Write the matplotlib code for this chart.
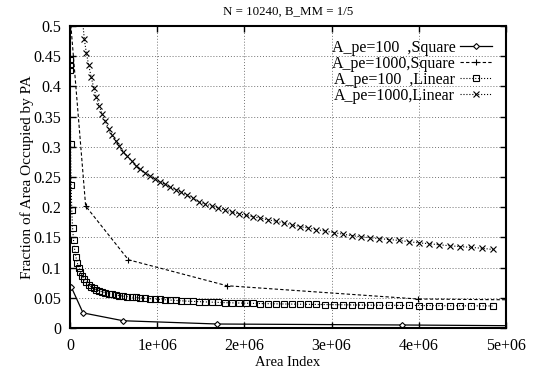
import numpy as np
import matplotlib
matplotlib.use("Agg")
import matplotlib.pyplot as plt

plt.rcParams['font.family'] = ['Liberation Serif', 'DejaVu Serif']
plt.rcParams['font.size'] = 9

# Square layouts (values in units of 1e6 on the x axis)
sq100_x = [0.015, 0.15, 0.61, 1.69, 3.81, 7.4]
sq100_y = [0.068, 0.025, 0.012, 0.0066, 0.005, 0.0015]
sq1000_x = [0.0, 0.18, 0.67, 1.8, 3.99, 8.0]
sq1000_y = [0.52, 0.202, 0.113, 0.070, 0.048, 0.043]

# Linear layouts, shared area indices
lin_x = [0.0, 0.0008, 0.0034, 0.0076, 0.0134, 0.021, 0.0302, 0.0412, 0.0538, 0.068,
         0.084, 0.1016, 0.121, 0.142, 0.1646, 0.189, 0.215, 0.2428, 0.2722, 0.3032,
         0.336, 0.3704, 0.4066, 0.4444, 0.4838, 0.525, 0.5678, 0.6124, 0.6586, 0.7064,
         0.756, 0.8072, 0.8602, 0.9148, 0.971, 1.029, 1.0886, 1.15, 1.213, 1.2776,
         1.344, 1.412, 1.4818, 1.5532, 1.6262, 1.701, 1.7774, 1.8556, 1.9354, 2.0168,
         2.1, 2.1848, 2.2714, 2.3596, 2.4494, 2.541, 2.6342, 2.7292, 2.8258, 2.924,
         3.024, 3.1256, 3.229, 3.334, 3.4406, 3.549, 3.659, 3.7708, 3.8842, 3.9992,
         4.116, 4.2344, 4.3546, 4.4764, 4.5998, 4.725, 4.8518]
lin100_y = [0.443, 0.435, 0.427, 0.305, 0.237, 0.195, 0.166, 0.145, 0.130, 0.118,
            0.108, 0.0998, 0.0927, 0.086, 0.0806, 0.0757, 0.0715, 0.0685, 0.066, 0.0637,
            0.0617, 0.060, 0.0585, 0.057, 0.0557, 0.0546, 0.0536, 0.0527, 0.0519, 0.0512,
            0.0505, 0.0498, 0.0492, 0.0486, 0.048, 0.0474, 0.0468, 0.0462, 0.0456, 0.045,
            0.0445, 0.044, 0.0436, 0.0432, 0.0428, 0.0424, 0.042, 0.0417, 0.0414, 0.0411,
            0.0408, 0.0405, 0.0402, 0.040, 0.0398, 0.0396, 0.0394, 0.0392, 0.039, 0.0388,
            0.0386, 0.0384, 0.0382, 0.038, 0.0378, 0.0376, 0.0375, 0.0374, 0.0373, 0.0372,
            0.0371, 0.037, 0.0369, 0.0368, 0.0367, 0.0366, 0.0365]
lin1000_y = [3.5, 2.9, 1.9, 1.45, 1.18, 1.0, 0.88, 0.79, 0.72, 0.665,
             0.62, 0.58, 0.545, 0.515, 0.478, 0.455, 0.435, 0.416, 0.398, 0.382,
             0.368, 0.354, 0.342, 0.330, 0.319, 0.310, 0.301, 0.292, 0.284, 0.276,
             0.269, 0.263, 0.257, 0.252, 0.247, 0.242, 0.238, 0.234, 0.229, 0.225,
             0.220, 0.215, 0.209, 0.205, 0.202, 0.199, 0.195, 0.192, 0.189, 0.1866,
             0.184, 0.182, 0.179, 0.177, 0.174, 0.171, 0.168, 0.1656, 0.163, 0.1606,
             0.158, 0.1555, 0.153, 0.151, 0.1495, 0.148, 0.1465, 0.145, 0.143, 0.141,
             0.1396, 0.1378, 0.1362, 0.1348, 0.1335, 0.132, 0.130]

xticks = [0, 1e6, 2e6, 3e6, 4e6, 5e6]
xtick_labels = ["0", "1e+06", "2e+06", "3e+06", "4e+06", "5e+06"]
yticks = np.arange(0, 0.501, 0.05)
ytick_labels = ["0", "0.05", "0.1", "0.15", "0.2", "0.25", "0.3", "0.35", "0.4", "0.45", "0.5"]

M = 1e6
fig = plt.figure(figsize=(5.38, 3.68), dpi=100)
ax = fig.add_axes([0.130, 0.1087, 0.8105, 0.8206])

ax.plot(np.array(sq100_x) * M, sq100_y, '-', color='black', lw=0.9,
        marker='D', ms=3, mfc='white', mew=0.8, label="A_pe=100  ,Square")
ax.plot(np.array(sq1000_x) * M, sq1000_y, '--', color='black', lw=0.8, dashes=(3, 2),
        marker='+', ms=5, mew=0.8, label="A_pe=1000,Square")
ax.plot(np.array(lin_x) * M, lin100_y, ':', color='black', lw=0.8,
        marker='s', ms=4.5, mfc='none', mew=0.8, label="A_pe=100  ,Linear")
ax.plot(np.array(lin_x) * M, lin1000_y, ':', color='black', lw=0.8,
        marker='x', ms=4, mew=0.8, label="A_pe=1000,Linear")

ax.set_xlim(0, 5e6)
ax.set_ylim(0, 0.5)
ax.set_xticks(xticks)
ax.set_xticklabels(xtick_labels)
ax.set_yticks(yticks)
ax.set_yticklabels(ytick_labels)
ax.tick_params(direction='in', top=True, right=True, length=4, width=1,
               labelsize=11.5)
ax.tick_params(axis='x', pad=7)
ax.tick_params(axis='y', pad=6)
ax.grid(True, linestyle=(0, (1, 2)), color='0.45', lw=0.7)
for s in ax.spines.values():
    s.set_linewidth(1.5)

ax.set_title("N = 10240, B_MM = 1/5", fontsize=9.3, pad=8)
ax.set_xlabel("Area Index", fontsize=10.5, labelpad=2)
ax.set_ylabel("Fraction of Area Occupied by PA", fontsize=11, labelpad=0)

ax.legend(loc='upper right', bbox_to_anchor=(0.968, 0.955), frameon=False,
          markerfirst=False, handlelength=2.0, labelspacing=0.0,
          fontsize=11.5, borderaxespad=0, borderpad=0, handletextpad=0.3)

fig.savefig("out.png", dpi=100)
